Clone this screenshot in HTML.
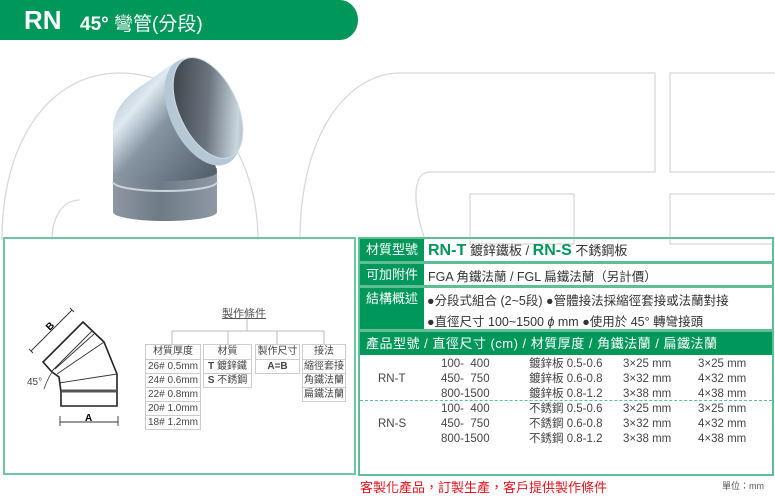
<!DOCTYPE html>
<html><head><meta charset="utf-8">
<style>
*{margin:0;padding:0;box-sizing:border-box}
body{width:775px;height:500px;background:#fff;position:relative;overflow:hidden;font-family:"Liberation Sans","Noto Sans CJK TC",sans-serif;color:#333}
.a{position:absolute;white-space:nowrap}
.g{background:#00975a;color:#fff}
.lab{position:absolute;left:360px;width:64px;background:#00975a;color:#fff;font-size:13px;text-align:center}
.row{position:absolute;left:358px;width:416px;border:2px solid #5dbf93}
.tb{position:absolute;border:1px solid #ccc;font-size:10px;color:#444}
.tb div{border-top:1px solid #ccc;height:14px;line-height:13px;text-align:center}
.tb div:first-child{border-top:none}
.c{font-size:11.5px;color:#444}
</style></head><body>
<svg class="a" style="left:0;top:0" width="775" height="500">
<g fill="none" stroke="#d8d8d8" stroke-width="1.3">
<path d="M2,240 C2,140 50,73 120,73 C190,73 258,140 258,240"/>
<path d="M52,240 C52,218 62,200 80,200"/>
<path d="M300,240 C300,130 350,73 400,73 L655,73 L655,172 L430,172 C415,172 410,195 425,240"/>
<rect x="470" y="194" width="104" height="50"/>
<rect x="670" y="73" width="110" height="99"/>
<rect x="670" y="194" width="110" height="50"/>
</g>
<defs>
<linearGradient id="p1" x1="0" x2="1"><stop offset="0" stop-color="#8d98a3"/><stop offset=".45" stop-color="#6e7a86"/><stop offset="1" stop-color="#8e99a5"/></linearGradient>
<linearGradient id="p2" x1="0" y1="0" x2="1" y2="1"><stop offset="0" stop-color="#8fa3b4"/><stop offset=".3" stop-color="#dfeaf2"/><stop offset=".5" stop-color="#8795a3"/><stop offset="1" stop-color="#4f5a66"/></linearGradient>
<linearGradient id="p3" x1="0" y1="0" x2="1" y2="1"><stop offset="0" stop-color="#2d3238"/><stop offset=".5" stop-color="#6b7580"/><stop offset=".8" stop-color="#c9d6df"/><stop offset="1" stop-color="#7d8893"/></linearGradient>
</defs>
<path d="M113,168 L113,212 A52,9 0 0 0 217,212 L217,168 Z" fill="url(#p1)"/>
<path d="M113,182 A52,9 0 0 0 217,182" stroke="#c9d3db" stroke-width="2" fill="none"/>
<path d="M113,172 L113,125 Q116,100 150,80 L175,62 L214,160 L217,172 A52,9 0 0 1 113,172 Z" fill="url(#p2)"/>
<ellipse cx="203" cy="112" rx="33" ry="57" transform="rotate(-25 203 112)" fill="#b6c8d6"/>
<ellipse cx="208" cy="108" rx="29" ry="54" transform="rotate(-25 208 108)" fill="url(#p3)" stroke="#cfdbe3" stroke-width="1"/>
<path d="M0,0 H340 A18,20 0 0 1 340,40 H0 Z" fill="#00975a"/>
</svg>
<div class="a" style="left:24px;top:5px;font-size:26px;font-weight:bold;color:#fff">RN</div>
<div class="a" style="left:80px;top:9px;font-size:19px;font-weight:bold;color:#fff">45° <span style="font-weight:normal">彎管(分段)</span></div>

<div class="a" style="left:3px;top:237px;width:353px;height:238px;border:2px solid #6cc6a0"></div>
<svg class="a" style="left:0;top:0" width="360" height="500">
<g fill="none" stroke="#222" stroke-width="1.6">
<path d="M61,392 L61,406 L117,406 L117,392 L117,374 L104,342 L83,322 L43,362 L52,372 L59,377 L61,392"/>
<path d="M61,391 L117,391" stroke-width="3" stroke="#555"/>
</g>
<g fill="none" stroke="#333" stroke-width="0.9">
<path d="M52,371 L92,331 M55,369 L94,334"/>
<path d="M57,374 L104,342 M59,383 L117,374"/>
<path d="M31,351 L72,310 M29,349 L33,353 M70,308 L74,312"/>
<path d="M60,422 L118,422 M60,416 L60,426 M118,416 L118,426"/>
<path d="M44,389 Q47,380 52,372" stroke="#555"/>
</g>
<text x="46" y="330" font-size="10" transform="rotate(-45 49 326)" font-family="Liberation Sans" font-weight="bold">B</text>
<text x="85" y="421" font-size="10" font-family="Liberation Sans" font-weight="bold">A</text>
<text x="27" y="385" font-size="10" fill="#444" font-family="Liberation Sans">45°</text>
<g stroke="#bbb" fill="none"><path d="M247,318 V331 M172,331 H324 M172,331 V344 M228,331 V344 M277,331 V344 M324,331 V344"/></g>
</svg>
<div class="a" style="left:222px;top:305px;font-size:11px;color:#555;text-decoration:underline">製作條件</div>
<div class="tb" style="left:145px;top:344px;width:56px"><div>材質厚度</div><div>26# 0.5mm</div><div>24# 0.6mm</div><div>22# 0.8mm</div><div>20# 1.0mm</div><div>18# 1.2mm</div></div>
<div class="tb" style="left:203px;top:344px;width:49px"><div>材質</div><div><b>T</b> 鍍鋅鐵</div><div><b>S</b> 不銹鋼</div></div>
<div class="tb" style="left:255px;top:344px;width:45px"><div>製作尺寸</div><div><b>A=B</b></div></div>
<div class="tb" style="left:302px;top:344px;width:44px"><div>接法</div><div>縮徑套接</div><div>角鐵法蘭</div><div>扁鐵法蘭</div></div>

<div class="row" style="top:237px;height:26px"></div>
<div class="lab" style="top:239px;height:22px;line-height:22px">材質型號</div>
<div class="a" style="left:428px;top:240px;font-size:13px"><b style="color:#00975a;font-size:16px">RN-T</b> 鍍鋅鐵板 / <b style="color:#00975a;font-size:16px">RN-S</b> 不銹鋼板</div>
<div class="row" style="top:262px;height:25px"></div>
<div class="lab" style="top:264px;height:21px;line-height:21px">可加附件</div>
<div class="a" style="left:428px;top:266px;font-size:12.5px">FGA 角鐵法蘭 / FGL 扁鐵法蘭（另計價）</div>
<div class="row" style="top:286px;height:45px"></div>
<div class="lab" style="top:288px;height:41px;line-height:22px;text-align:center">結構概述</div>
<div class="a" style="left:427px;top:290px;font-size:12.5px">●分段式組合 (2~5段) ●管體接法採縮徑套接或法蘭對接</div>
<div class="a" style="left:427px;top:311px;font-size:12.5px">●直徑尺寸 100~1500 <i>ϕ</i> mm ●使用於 45° 轉彎接頭</div>
<div class="row" style="top:330px;height:146px"></div>
<div class="a g" style="left:360px;top:332px;width:412px;height:23px;line-height:23px;font-size:13px;padding-left:6px;letter-spacing:0.5px">產品型號 / 直徑尺寸 (cm) / 材質厚度 / 角鐵法蘭 / 扁鐵法蘭</div>
<div class="a" style="left:360px;top:400px;width:412px;border-top:1px dashed #5dbf93"></div>
<div class="a c" style="left:378px;top:373px">RN-T</div>
<div class="a c" style="left:378px;top:418px">RN-S</div>
<div class="a c" style="left:441px;top:357px;line-height:15px">100-&nbsp; 400<br>450-&nbsp; 750<br>800-1500</div>
<div class="a c" style="left:529px;top:357px;line-height:15px">鍍鋅板 0.5-0.6<br>鍍鋅板 0.6-0.8<br>鍍鋅板 0.8-1.2</div>
<div class="a c" style="left:623px;top:357px;line-height:15px">3×25 mm<br>3×32 mm<br>3×38 mm</div>
<div class="a c" style="left:698px;top:357px;line-height:15px">3×25 mm<br>4×32 mm<br>4×38 mm</div>
<div class="a c" style="left:441px;top:402px;line-height:15px">100-&nbsp; 400<br>450-&nbsp; 750<br>800-1500</div>
<div class="a c" style="left:529px;top:402px;line-height:15px">不銹鋼 0.5-0.6<br>不銹鋼 0.6-0.8<br>不銹鋼 0.8-1.2</div>
<div class="a c" style="left:623px;top:402px;line-height:15px">3×25 mm<br>3×32 mm<br>3×38 mm</div>
<div class="a c" style="left:698px;top:402px;line-height:15px">3×25 mm<br>4×32 mm<br>4×38 mm</div>
<div class="a" style="left:360px;top:477px;font-size:13px;color:#e0141e">客製化產品，訂製生產，客戶提供製作條件</div>
<div class="a" style="left:722px;top:479px;font-size:9px;color:#555">單位：mm</div>
</body></html>
